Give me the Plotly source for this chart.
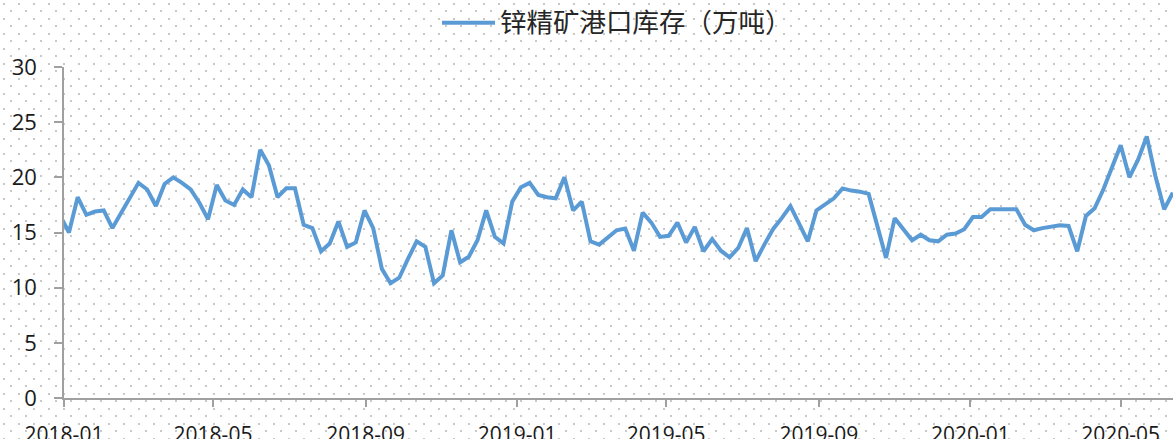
import base64
import pandas as pd
import plotly.graph_objects as go

# ---- data ----
series_name = "锌精矿港口库存（万吨）"
first_date = "2017-12-29"   # weekly (Friday) observations
stock = [
    16.5,
    15.0, 18.2, 16.6, 16.9, 17.0, 15.4, 16.8, 18.1, 19.5, 18.9,
    17.4, 19.4, 20.0, 19.5, 18.9, 17.7, 16.2, 19.3, 17.9, 17.5,
    18.9, 18.2, 22.5, 21.1, 18.2, 19.0, 19.0, 15.7, 15.4, 13.3,
    14.0, 16.0, 13.7, 14.1, 17.0, 15.4, 11.7, 10.4, 10.9, 12.6,
    14.2, 13.7, 10.4, 11.1, 15.2, 12.3, 12.8, 14.3, 17.0, 14.6,
    14.0, 17.8, 19.1, 19.5, 18.4, 18.2, 18.1, 20.0, 17.0, 17.8,
    14.2, 13.9, 14.6, 15.2, 15.35, 13.35, 16.8, 15.9, 14.6, 14.7,
    15.9, 14.1, 15.5, 13.3, 14.4, 13.35, 12.75, 13.6, 15.4, 12.4,
    13.9, 15.3, 16.3, 17.4, 15.8, 14.2, 17.0, 17.6, 18.1, 19.0,
    18.8, 18.7, 18.5, 15.6, 12.7, 16.3, 15.3, 14.3, 14.8, 14.3,
    14.2, 14.8, 14.9, 15.3, 16.4, 16.4, 17.1, 17.1, 17.1, 17.1,
    15.7, 15.2, 15.4, 15.5, 15.65, 15.6, 13.3, 16.5, 17.2, 18.9,
    20.8, 22.9, 20.0, 21.6, 23.7, 20.1, 17.1, 18.6,
]
dates = pd.date_range(first_date, periods=len(stock), freq="7D")
x_range = ["2018-01-01", "2020-06-12 03:00"]
y_range = [0, 30]
x_tick0 = "2018-01-01"

# ---- geometry / style (window pixels; page margin removed below) ----
W, H = 1173, 439
ML, MT, MR = 64, 67, 0
MB = H - 398
PW, PH = W - ML - MR, H - MT - MB
LINE_COLOR = "#5B9BD5"
AXIS_COLOR = "#A0A0A0"
TEXT_COLOR = "#1A1A1A"
FONT = "Open Sans"

# dotted background pattern (decoration)
svg = (
    f'<svg xmlns="http://www.w3.org/2000/svg" width="{W}" height="{H}">'
    '<defs><pattern id="p" width="15" height="15" patternUnits="userSpaceOnUse">'
    '<rect x="3" y="3" width="2" height="2" fill="#c8c8c8"/>'
    '<rect x="10" y="10" width="2" height="2" fill="#c8c8c8"/>'
    '</pattern></defs>'
    f'<rect width="{W}" height="{H}" fill="white"/>'
    f'<rect width="{W}" height="{H}" fill="url(#p)"/></svg>'
)
bg_src = "data:image/svg+xml;base64," + base64.b64encode(svg.encode()).decode()

fig = go.Figure()
fig.add_trace(go.Scatter(
    x=dates, y=stock, mode="lines", name=series_name,
    line=dict(color=LINE_COLOR, width=4), showlegend=False,
))

def px_x(p):   # window pixel -> paper x
    return (p - ML) / PW

def px_y(p):   # window pixel -> paper y
    return (H - MB - p) / PH

# legend drawn manually (long line sample like the original)
fig.add_shape(type="line", xref="paper", yref="paper",
              x0=px_x(442), x1=px_x(495), y0=px_y(22.7), y1=px_y(22.7),
              line=dict(color=LINE_COLOR, width=4))
fig.add_annotation(xref="paper", yref="paper", x=px_x(498), y=px_y(20.5),
                   xanchor="left", yanchor="middle", showarrow=False,
                   text=series_name,
                   font=dict(family="Noto Sans CJK SC", size=26.5, color="#262626"))

fig.update_layout(
    template="none",
    width=W, height=H,
    margin=dict(l=ML, r=MR, t=MT, b=MB, pad=0),
    paper_bgcolor="white",
    plot_bgcolor="rgba(0,0,0,0)",
    images=[dict(source=bg_src, xref="paper", yref="paper",
                 x=-ML / PW, y=(PH + MT) / PH, sizex=W / PW, sizey=H / PH,
                 xanchor="left", yanchor="top", sizing="stretch", layer="below")],
    font=dict(family=FONT, size=21, color=TEXT_COLOR),
    showlegend=False,
)
fig.update_xaxes(
    type="date", range=x_range, tick0=x_tick0, dtick="M4", tickformat="%Y-%m",
    showgrid=False, zeroline=False, automargin=False,
    showline=True, linecolor=AXIS_COLOR, linewidth=1.5,
    ticks="outside", ticklen=7, tickwidth=1.5, tickcolor=AXIS_COLOR,
    ticklabelstandoff=10,
    tickfont=dict(family=FONT, size=21, color=TEXT_COLOR),
)
fig.update_yaxes(
    range=y_range, dtick=5, tick0=0,
    showgrid=False, zeroline=False, automargin=False,
    showline=True, linecolor=AXIS_COLOR, linewidth=1.5,
    ticks="outside", ticklen=8, tickwidth=1.5, tickcolor=AXIS_COLOR,
    ticklabelstandoff=13,
    tickfont=dict(family=FONT, size=22, color=TEXT_COLOR),
)

fig.write_html(
    "out.html",
    config={"displayModeBar": False},
    post_script="document.body.style.margin='0';document.body.style.overflow='hidden';",
)
